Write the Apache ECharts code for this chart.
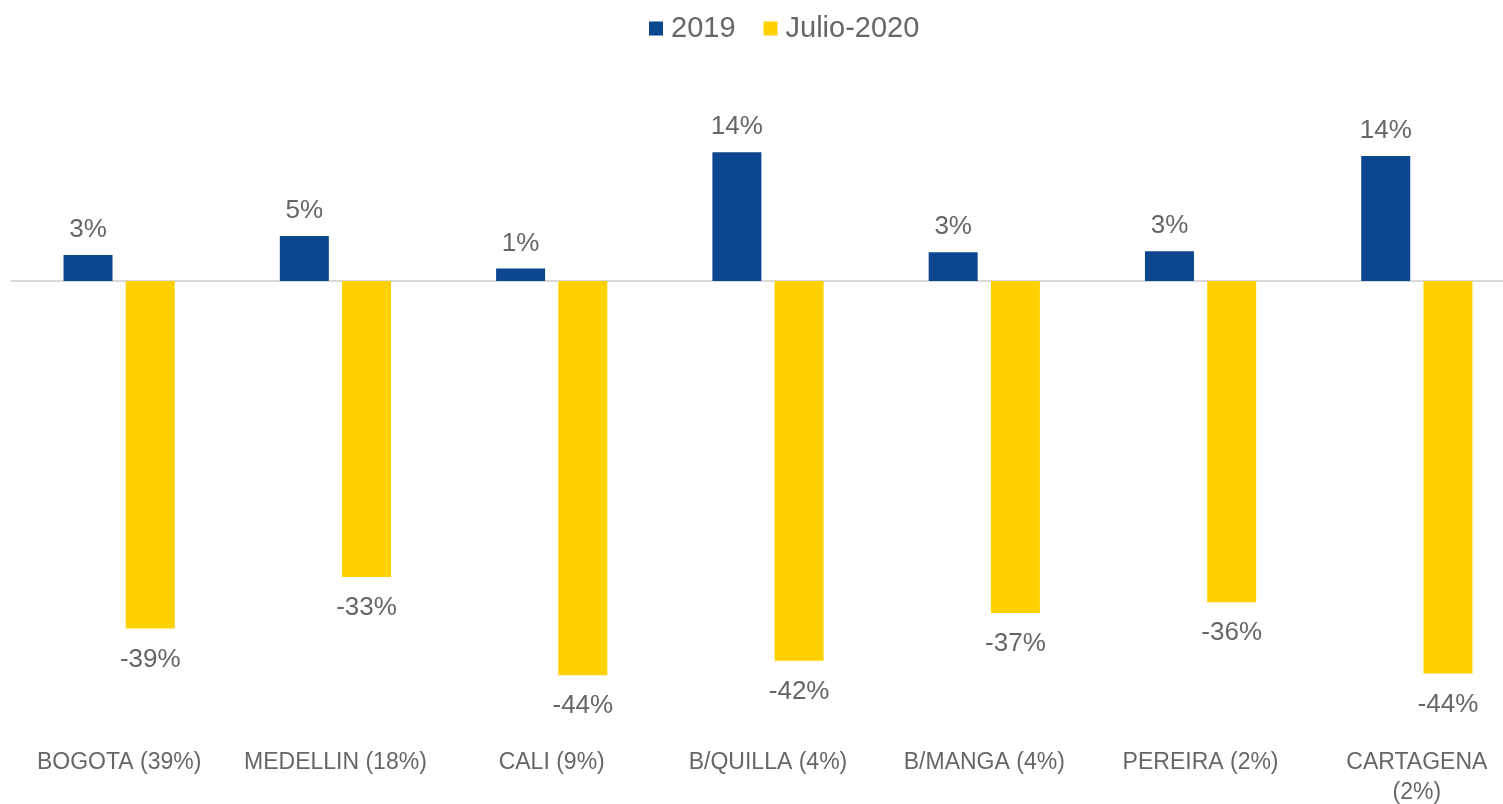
<!DOCTYPE html>
<html>
<head>
<meta charset="utf-8">
<script src="https://cdn.jsdelivr.net/npm/echarts@6/dist/echarts.min.js"></script>
<style>
  html, body { margin: 0; padding: 0; background: #fff; }
  #chart { width: 1503px; height: 804px; }
</style>
</head>
<body>
<div id="chart"></div>
<script>
var cities = ['BOGOTA (39%)', 'MEDELLIN (18%)', 'CALI (9%)', 'B/QUILLA (4%)', 'B/MANGA (4%)', 'PEREIRA (2%)', 'CARTAGENA\n(2%)'];
var v2019 = [2.9, 5.0, 1.4, 14.3, 3.2, 3.3, 13.9];
var vJul2020 = [-38.6, -32.9, -43.8, -42.2, -36.9, -35.7, -43.6];
var seriesNames = ['2019', 'Julio-2020'];

var textColor = '#666666';
var fontFam = '"Liberation Sans", Arial, sans-serif';

var pctLabel = function(p) {
  return Math.round(p.value) + '%';
};

var chart = echarts.init(document.getElementById('chart'));

var option = {
  animation: false,
  color: ['#0d4690', '#ffd100'],
  legend: {
    top: 9,
    left: 644,
    itemWidth: 14,
    itemHeight: 14,
    itemGap: 28,
    icon: 'rect',
    textStyle: { color: textColor, fontSize: 29, fontFamily: fontFam, padding: [0, 0, 0, 3] },
    data: seriesNames
  },
  grid: { left: 11, width: 1514, top: 101, bottom: 73, containLabel: false, outerBoundsMode: 'none' },
  xAxis: {
    type: 'category',
    data: cities,
    axisLine: { show: true, onZero: true, lineStyle: { color: '#d9d9d9', width: 2 } },
    axisTick: { show: false },
    axisLabel: {
      interval: 0,
      color: textColor,
      fontSize: 23,
      lineHeight: 30,
      margin: 17,
      fontFamily: fontFam
    }
  },
  yAxis: {
    type: 'value',
    min: -50,
    max: 20,
    show: false,
    splitLine: { show: false }
  },
  series: [
    {
      name: seriesNames[0],
      type: 'bar',
      data: v2019,
      barWidth: 49,
      barGap: '27%',
      label: {
        show: true,
        position: 'top',
        distance: 12,
        color: textColor,
        fontSize: 26,
        fontFamily: fontFam,
        formatter: pctLabel
      }
    },
    {
      name: seriesNames[1],
      type: 'bar',
      data: vJul2020,
      barWidth: 49,
      label: {
        show: true,
        position: 'bottom',
        distance: 18,
        color: textColor,
        fontSize: 26,
        fontFamily: fontFam,
        formatter: pctLabel
      }
    }
  ]
};

chart.setOption(option);
</script>
</body>
</html>
